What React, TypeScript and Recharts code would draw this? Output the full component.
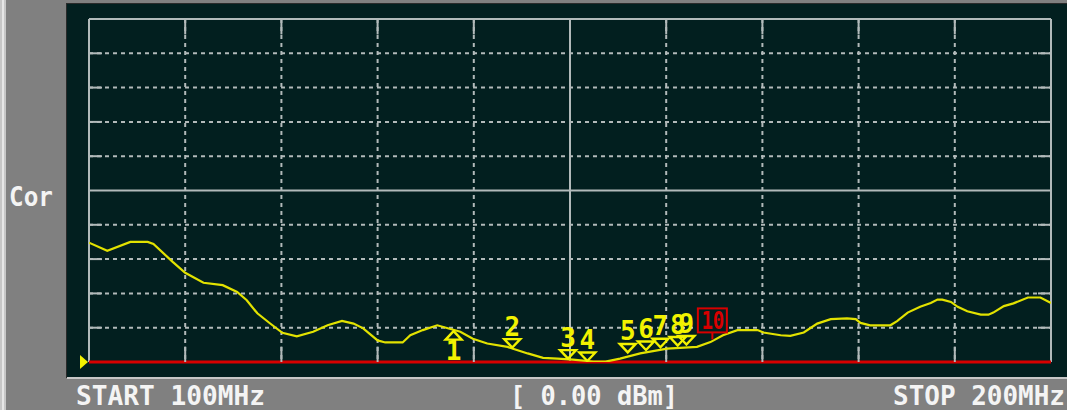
import React from 'react';
import { ComposedChart, Line, Scatter, XAxis, YAxis, CartesianGrid, ReferenceLine, ReferenceDot } from 'recharts';

// ---- data ----
const FREQ_MHZ = [100.0, 101.9, 104.3, 106.1, 106.7, 108.7, 110.0, 111.9, 113.9, 115.4, 116.4, 117.5, 118.8, 120.1, 121.6, 123.3, 124.8, 126.3, 127.5, 128.5, 130.0, 130.8, 132.6, 133.4, 134.7, 136.2, 138.6, 139.9, 141.4, 143.5, 145.6, 147.2, 148.7, 150.3, 152.4, 153.7, 155.2, 157.3, 160.1, 163.2, 164.6, 165.9, 167.4, 169.5, 170.1, 171.9, 172.9, 174.3, 175.7, 177.1, 178.8, 179.7, 180.2, 181.2, 183.3, 184.0, 185.1, 186.4, 187.5, 188.2, 188.7, 189.6, 190.3, 191.3, 192.7, 193.5, 194.0, 195.1, 196.1, 197.6, 198.9, 200.0];
const LEVEL = [34.8, 32.4, 35.0, 35.0, 34.4, 29.2, 26.0, 23.1, 22.4, 20.4, 18.0, 14.2, 11.3, 8.5, 7.5, 8.8, 10.7, 12.0, 11.2, 9.8, 6.3, 5.7, 5.7, 7.8, 9.3, 10.7, 8.8, 6.8, 5.4, 4.4, 2.5, 1.2, 1.0, 0.7, 0.15, 0.1, 1.0, 2.5, 3.9, 4.4, 5.8, 7.8, 9.3, 9.3, 8.6, 7.8, 7.6, 8.6, 11.2, 12.5, 12.7, 12.5, 11.4, 10.7, 10.7, 11.9, 14.4, 16.1, 17.2, 18.2, 18.2, 17.5, 16.1, 14.8, 13.8, 13.8, 14.4, 16.3, 17.1, 18.8, 18.8, 17.2];

const MARKER_NO = ['1', '2', '3', '4', '5', '6', '7', '8', '9', '10'];
const MARKER_MHZ = [137.9, 144.0, 149.8, 151.8, 156.0, 157.9, 159.4, 161.2, 162.1, 164.8];
const MARKER_LEVEL = [9.3, 3.9, 0.7, 0.0, 2.5, 3.2, 4.0, 4.5, 4.8, 6.3];
const MARKER_KIND = ['up', 'down', 'down', 'down', 'down', 'down', 'down', 'down', 'down', 'box'];

const X_TICKS = [100, 110, 120, 130, 140, 150, 160, 170, 180, 190, 200];
const Y_TICKS = [0, 10, 20, 30, 40, 50, 60, 70, 80, 90, 100];
const GRID_H_DASHED = [10, 20, 30, 40, 60, 70, 80, 90];
const GRID_H_SOLID = [50, 100];
const GRID_V_DASHED = [110, 120, 130, 140, 160, 170, 180, 190];
const GRID_V_SOLID = [100, 150, 200];

const LEFT_LABEL = 'Cor';
const START_LABEL = 'START 100MHz';
const REF_LABEL = '[ 0.00 dBm]';
const STOP_LABEL = 'STOP 200MHz';

// ---- styling ----
const W = 1067;
const H = 410;
const GRID = '#b2baba';
const TRACE = '#e2e200';
const MARK = '#f2f200';
const RED = '#d80000';
const FONT = '"DejaVu Sans Mono", monospace';
const TICK_X = 1.35;
const TICK_Y = 4.5;

const traceData = FREQ_MHZ.map((f, i) => ({ f, v: LEVEL[i] }));
const markerData = MARKER_NO.map((n, i) => ({ f: MARKER_MHZ[i], v: MARKER_LEVEL[i], n, kind: MARKER_KIND[i] }));

const MarkerShape = (props: any) => {
  const { cx, cy, payload } = props;
  if (cx == null || cy == null) return null;
  const kind = payload.kind;
  const n = payload.n;
  if (kind === 'box') {
    return (
      <g>
        <line x1={cx} y1={cy - 8} x2={cx} y2={cy - 1} stroke={RED} strokeWidth={2} />
        <rect x={cx - 14.5} y={cy - 32} width={29} height={24} fill="#021f1f" stroke={RED} strokeWidth={2} />
        <text x={cx - 11} y={cy - 11.5} fill={RED} fontFamily={FONT} fontWeight="bold" fontSize={25} textLength={23} lengthAdjust="spacingAndGlyphs">{n}</text>
      </g>
    );
  }
  if (kind === 'up') {
    return (
      <g>
        <polygon points={`${cx},${cy + 1} ${cx - 8},${cy + 9.5} ${cx + 8},${cy + 9.5}`} fill="none" stroke={MARK} strokeWidth={2.4} />
        <text x={cx} y={cy + 30} fill={MARK} textAnchor="middle" fontFamily={FONT} fontWeight="bold" fontSize={26}>{n}</text>
      </g>
    );
  }
  return (
    <g>
      <polygon points={`${cx},${cy - 1} ${cx - 8},${cy - 9.5} ${cx + 8},${cy - 9.5}`} fill="none" stroke={MARK} strokeWidth={2.4} />
      <text x={cx} y={cy - 13} fill={MARK} textAnchor="middle" fontFamily={FONT} fontWeight="bold" fontSize={26}>{n}</text>
    </g>
  );
};

const RefMarker = (props: any) => {
  const { cx, cy } = props;
  if (cx == null || cy == null) return null;
  return <polygon points={`${cx - 9},${cy - 7} ${cx - 1},${cy} ${cx - 9},${cy + 7}`} fill={MARK} />;
};

export default function App() {
  const textStyle = { fill: '#f4f4f4', fontFamily: FONT, fontWeight: 'bold' as const, fontSize: 26 };
  return (
    <div style={{ position: 'absolute', left: 0, top: 0, width: W, height: H, background: '#808080', overflow: 'hidden' }}>
      <svg width={W} height={H} style={{ position: 'absolute', left: 0, top: 0 }}>
        <rect x={0} y={0} width={W} height={H} fill="#808080" />
        <rect x={0} y={0} width={6} height={H} fill="#c6c6c6" />
        <rect x={2} y={0} width={2} height={H} fill="#e6e6e6" />
        <rect x={66.5} y={3.5} width={1001} height={374} fill="#021f1f" stroke="#2a2a2a" strokeWidth={1} />
        <rect x={67} y={377} width={1000} height={2} fill="#c8c8c8" />
        <text x={9} y={206} {...textStyle} textLength={44} lengthAdjust="spacingAndGlyphs">{LEFT_LABEL}</text>
        <text x={76} y={405} {...textStyle} textLength={189} lengthAdjust="spacingAndGlyphs" xmlSpace="preserve">{START_LABEL}</text>
        <text x={510} y={405} {...textStyle} textLength={168} lengthAdjust="spacingAndGlyphs" xmlSpace="preserve">{REF_LABEL}</text>
        <text x={893} y={405} {...textStyle} textLength={172} lengthAdjust="spacingAndGlyphs" xmlSpace="preserve">{STOP_LABEL}</text>
      </svg>
      <div style={{ position: 'absolute', left: 0, top: 0 }}>
        <ComposedChart width={W} height={H} data={traceData} margin={{ top: 19, right: 16, bottom: 48, left: 89 }}>
          <XAxis dataKey="f" type="number" domain={[100, 200]} ticks={X_TICKS} hide allowDataOverflow />
          <YAxis dataKey="v" type="number" domain={[0, 100]} ticks={Y_TICKS} hide allowDataOverflow />
          <CartesianGrid horizontal vertical={false} horizontalValues={GRID_H_DASHED} stroke={GRID} strokeWidth={2} strokeDasharray="4 4" />
          <CartesianGrid horizontal={false} vertical verticalValues={GRID_V_DASHED} stroke={GRID} strokeWidth={2} strokeDasharray="4 4" />
          <CartesianGrid horizontal vertical={false} horizontalValues={GRID_H_SOLID} stroke={GRID} strokeWidth={2} />
          <CartesianGrid horizontal={false} vertical verticalValues={GRID_V_SOLID} stroke={GRID} strokeWidth={2} />
          {GRID_H_DASHED.map((v) => (
            <ReferenceLine key={`hl${v}`} segment={[{ x: 100, y: v }, { x: 100 + TICK_X, y: v }]} stroke={GRID} strokeWidth={2} />
          ))}
          {GRID_H_DASHED.map((v) => (
            <ReferenceLine key={`hr${v}`} segment={[{ x: 200 - TICK_X, y: v }, { x: 200, y: v }]} stroke={GRID} strokeWidth={2} />
          ))}
          {GRID_V_DASHED.map((f) => (
            <ReferenceLine key={`vb${f}`} segment={[{ x: f, y: 0 }, { x: f, y: TICK_Y }]} stroke={GRID} strokeWidth={2} />
          ))}
          {GRID_V_DASHED.map((f) => (
            <ReferenceLine key={`vt${f}`} segment={[{ x: f, y: 100 - TICK_Y }, { x: f, y: 100 }]} stroke={GRID} strokeWidth={2} />
          ))}
          <CartesianGrid horizontal vertical={false} horizontalValues={[0]} stroke={RED} strokeWidth={3} />
          <Line dataKey="v" type="linear" stroke={TRACE} strokeWidth={2.2} dot={false} isAnimationActive={false} />
          <Scatter data={markerData} dataKey="v" shape={MarkerShape} isAnimationActive={false} />
          <ReferenceDot x={100} y={0} r={1} shape={RefMarker} ifOverflow="visible" />
        </ComposedChart>
      </div>
    </div>
  );
}
